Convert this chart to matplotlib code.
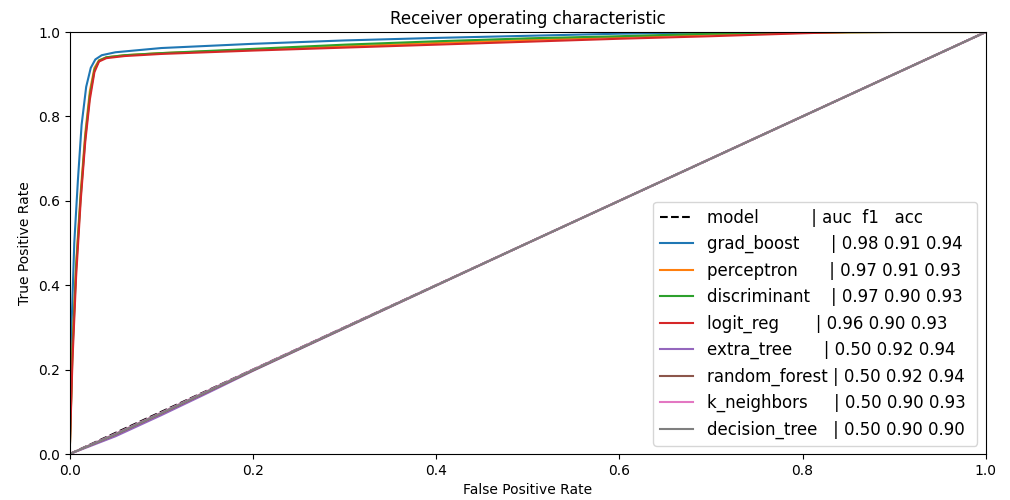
import matplotlib
matplotlib.use("Agg")
import matplotlib.pyplot as plt

# model names and scores (auc, f1, acc)
models = ["grad_boost", "perceptron", "discriminant", "logit_reg",
          "extra_tree", "random_forest", "k_neighbors", "decision_tree"]
auc = [0.98, 0.97, 0.97, 0.96, 0.50, 0.50, 0.50, 0.50]
f1 = [0.91, 0.91, 0.90, 0.90, 0.92, 0.92, 0.90, 0.90]
acc = [0.94, 0.93, 0.93, 0.93, 0.94, 0.94, 0.93, 0.90]
# spaces between name and "|" as seen in the legend
pad = [6, 6, 4, 7, 6, 1, 5, 3]

# roc curves
fpr_grad_boost = [0, 0.002, 0.005, 0.009, 0.013, 0.018, 0.023, 0.028, 0.035, 0.05, 0.1, 0.2, 0.3, 0.4, 0.5, 0.6, 0.7, 0.8, 0.9, 1.0]
tpr_grad_boost = [0, 0.30, 0.50, 0.65, 0.78, 0.87, 0.915, 0.935, 0.945, 0.952, 0.962, 0.972, 0.980, 0.986, 0.991, 0.996, 0.999, 1.0, 1.0, 1.0]

fpr_perceptron = [0, 0.003, 0.007, 0.012, 0.017, 0.022, 0.027, 0.032, 0.04, 0.06, 0.1, 0.2, 0.3, 0.4, 0.5, 0.6, 0.7, 0.8, 0.9, 1.0]
tpr_perceptron = [0, 0.25, 0.45, 0.62, 0.76, 0.86, 0.915, 0.933, 0.940, 0.945, 0.950, 0.958, 0.966, 0.974, 0.981, 0.988, 0.994, 0.998, 1.0, 1.0]

fpr_discriminant = [0, 0.003, 0.007, 0.012, 0.017, 0.022, 0.027, 0.032, 0.04, 0.06, 0.1, 0.2, 0.3, 0.4, 0.5, 0.6, 0.7, 0.8, 0.9, 1.0]
tpr_discriminant = [0, 0.24, 0.44, 0.61, 0.75, 0.85, 0.91, 0.932, 0.940, 0.945, 0.950, 0.960, 0.970, 0.978, 0.985, 0.990, 0.996, 0.999, 1.0, 1.0]

fpr_logit_reg = [0, 0.003, 0.007, 0.012, 0.017, 0.022, 0.027, 0.032, 0.04, 0.06, 0.1, 0.2, 0.3, 0.4, 0.5, 0.6, 0.7, 0.8, 0.85, 1.0]
tpr_logit_reg = [0, 0.22, 0.42, 0.60, 0.74, 0.84, 0.905, 0.930, 0.938, 0.943, 0.948, 0.956, 0.963, 0.970, 0.977, 0.984, 0.990, 0.997, 1.0, 1.0]

fpr_extra_tree = [0, 0.05, 0.1, 0.15, 0.2, 0.5, 1.0]
tpr_extra_tree = [0, 0.042, 0.092, 0.144, 0.197, 0.5, 1.0]

fpr_random_forest = [0, 0.05, 0.1, 0.2, 0.5, 1.0]
tpr_random_forest = [0, 0.046, 0.096, 0.198, 0.5, 1.0]

fpr_k_neighbors = [0, 0.05, 0.1, 0.2, 0.5, 1.0]
tpr_k_neighbors = [0, 0.048, 0.098, 0.2, 0.5, 1.0]

fpr_decision_tree = [0, 0.05, 0.1, 0.2, 0.5, 1.0]
tpr_decision_tree = [0, 0.047, 0.097, 0.199, 0.5, 1.0]

curves = [
    (fpr_grad_boost, tpr_grad_boost),
    (fpr_perceptron, tpr_perceptron),
    (fpr_discriminant, tpr_discriminant),
    (fpr_logit_reg, tpr_logit_reg),
    (fpr_extra_tree, tpr_extra_tree),
    (fpr_random_forest, tpr_random_forest),
    (fpr_k_neighbors, tpr_k_neighbors),
    (fpr_decision_tree, tpr_decision_tree),
]

fig = plt.figure(figsize=(10.1, 5), dpi=100)
ax = fig.add_axes([0.069, 0.092, 0.907, 0.844])

# reference diagonal, doubles as legend header
ax.plot([0, 1], [0, 1], "k--", label="model" + " " * 10 + "| auc  f1   acc")

for i, name in enumerate(models):
    fpr, tpr = curves[i]
    label = name + " " * pad[i] + f"| {auc[i]:.2f} {f1[i]:.2f} {acc[i]:.2f} "
    ax.plot(fpr, tpr, label=label)

ax.set_xlim(0, 1)
ax.set_ylim(0, 1)
ax.set_xlabel("False Positive Rate")
ax.set_ylabel("True Positive Rate")
ax.set_title("Receiver operating characteristic")
ax.legend(loc="lower right", fontsize=12)

fig.savefig("out.png")
